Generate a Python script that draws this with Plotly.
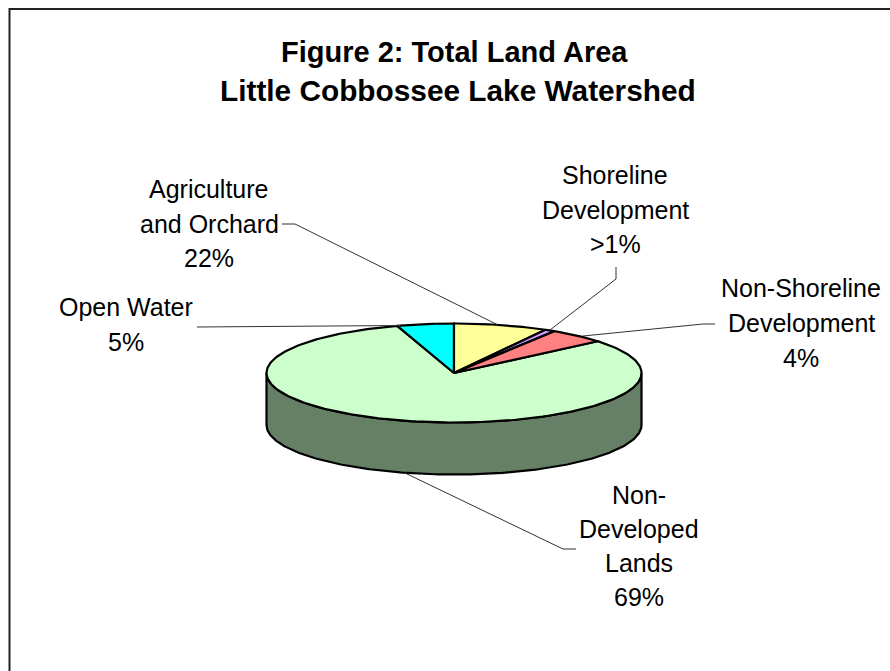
import numpy as np
import plotly.graph_objects as go

# Slice shares as drawn in the picture (clockwise from 12 o'clock), with their printed labels
categories = ["Agriculture and Orchard", "Shoreline Development", "Non-Shoreline Development",
              "Non-Developed Lands", "Open Water"]
slice_shares = [8.1, 0.9, 4.9, 81.2, 4.9]
slice_colors = ["#FFFF99", "#CC99FF", "#FF8080", "#CCFFCC", "#00FFFF"]
side_color = "#668066"

title_lines = [("Figure 2: Total Land Area", 454.5, 52, 29),
               ("Little Cobbossee Lake Watershed", 457.5, 90.5, 29.8)]

label_lines = [
    (["Agriculture", "and Orchard", "22%"], 209, 189, 34.5),
    (["Shoreline", "Development", ">1%"], 615, 175, 34.5),
    (["Non-Shoreline", "Development", "4%"], 801, 288, 35),
    (["Non-", "Developed", "Lands", "69%"], 638.5, 495, 34),
    (["Open Water", "5%"], 126, 307, 35),
]
leaders = [
    ([282, 295, 498], [224, 224, 325]),
    ([616, 616, 550], [267, 279, 330]),
    ([583, 703, 715], [336, 324, 324]),
    ([197, 400], [327, 325.5]),
    ([405, 563, 576], [473, 549, 549]),
]

CX, CY, RX, RY, DEPTH = 454.0, 373.0, 187.5, 49.5, 52.0


def rim(a0, a1, n=None):
    n = n or max(3, int(abs(a1 - a0)) + 2)
    t = np.radians(np.linspace(a0, a1, n))
    return CX + RX * np.sin(t), CY - RY * np.cos(t)


fig = go.Figure()

# side wall: the visible front half of the rim
tx, ty = rim(90, 270, 200)
fig.add_trace(go.Scatter(
    x=np.r_[tx, tx[::-1], tx[0]], y=np.r_[ty, ty[::-1] + DEPTH, ty[0]],
    mode="lines", fill="toself", fillcolor=side_color,
    line=dict(color="#000000", width=2.2), hoverinfo="skip", showlegend=False))

edges = np.r_[0, np.cumsum(slice_shares)] / sum(slice_shares) * 360
for i in [3, 4, 0, 1, 2]:
    ax, ay = rim(edges[i], edges[i + 1])
    fig.add_trace(go.Scatter(
        x=np.r_[CX, ax, CX], y=np.r_[CY, ay, CY],
        mode="lines", fill="toself", fillcolor=slice_colors[i], name=categories[i],
        line=dict(color="#000000", width=2.2), hoverinfo="skip", showlegend=False))

for lx, ly in leaders:
    fig.add_trace(go.Scatter(x=lx, y=ly, mode="lines", line=dict(color="#333333", width=1),
                             hoverinfo="skip", showlegend=False))

# chart frame: only the top and left edges fall inside the picture
fig.add_trace(go.Scatter(x=[9.5, 9.5, 890], y=[671, 9, 9], mode="lines",
                         line=dict(color="#222222", width=2),
                         hoverinfo="skip", showlegend=False))

ann = []
for line, x, y, size in title_lines:
    ann.append(dict(x=x, y=y, text=f"<b>{line}</b>", showarrow=False,
                    xanchor="center", yanchor="middle",
                    font=dict(family="Liberation Sans", size=size, color="#000000")))
for lines, x, y0, step in label_lines:
    for k, line in enumerate(lines):
        ann.append(dict(x=x, y=y0 + step * k, text=line.replace(">", "&gt;"), showarrow=False,
                        xanchor="center", yanchor="middle",
                        font=dict(family="Liberation Sans", size=25, color="#000000")))

fig.update_layout(
    width=890, height=671, autosize=False,
    margin=dict(l=0, r=0, t=0, b=0),
    paper_bgcolor="#FFFFFF", plot_bgcolor="#FFFFFF",
    xaxis=dict(range=[0, 890], visible=False, fixedrange=True),
    yaxis=dict(range=[671, 0], visible=False, fixedrange=True),
    annotations=ann, showlegend=False)

fig.write_html("out.html", config=dict(displayModeBar=False),
               post_script="document.body.style.margin='0';document.body.style.overflow='hidden';")
